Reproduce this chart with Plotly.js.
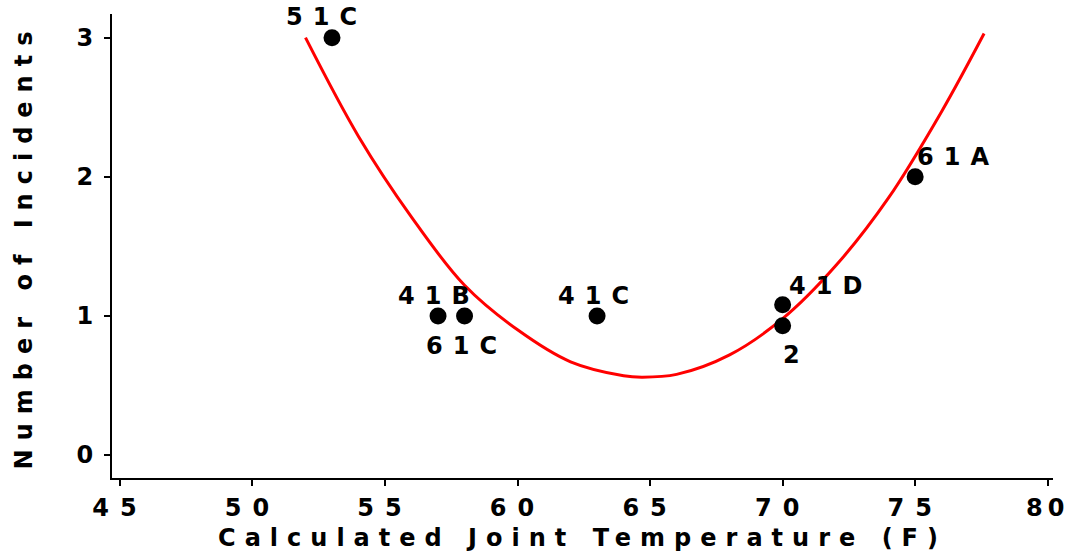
<!DOCTYPE html>
<html>
<head>
<meta charset="utf-8">
<script src="https://cdn.plot.ly/plotly-3.0.1.min.js"></script>
<style>
  html, body { margin: 0; padding: 0; background: #fff; }
  #chart { width: 1072px; height: 553px; }
  #chart .xtick text { letter-spacing: 11px; }
  #chart .xtick:last-of-type text { letter-spacing: 5px; }
  #chart .ytick text { letter-spacing: 6px; }
  #chart .g-xtitle text, #chart .g-ytitle text { letter-spacing: 9px; }
  #chart .annotation-text { letter-spacing: 10px; }
</style>
</head>
<body>
<div id="chart"></div>
<script>
// Observed incidents by joint temperature
const jointTemp = [53, 57, 58, 63, 70, 70, 75];
const incidents = [3, 1, 1, 1, 1.08, 0.93, 2];
const flightLabels = ["51C", "41B", "61C", "41C", "41D", "2", "61A"];

// Fitted curve, values
const curveTemp = [52, 54, 56, 58, 60, 62, 64, 64.7, 66, 68, 70, 72, 74, 76, 77.6];
const curveIncidents = [3.0, 2.29, 1.71, 1.22, 0.9, 0.67, 0.57, 0.56, 0.58, 0.72, 0.98, 1.36, 1.85, 2.47, 3.03];

const xTicks = [45, 50, 55, 60, 65, 70, 75, 80];
const yTicks = [0, 1, 2, 3];

// label offsets in pixels (dx, dy) relative to each point
const labelShift = [[-6, 21], [1, 20], [2, -30], [1, 20], [48, 19], [14, -29], [43, 20]];

const FONT = "DejaVu Sans, Liberation Sans, Arial, sans-serif";

const traces = [
  {
    x: curveTemp, y: curveIncidents, type: "scatter", mode: "lines",
    line: { color: "#ff0000", width: 3, shape: "spline" },
    hoverinfo: "skip", showlegend: false
  },
  {
    x: jointTemp, y: incidents, type: "scatter", mode: "markers",
    marker: { color: "#000000", size: 17 },
    showlegend: false
  }
];

const annotations = flightLabels.map((t, i) => ({
  x: jointTemp[i], y: incidents[i], xref: "x", yref: "y",
  text: "<b>" + t + "</b>", showarrow: false,
  xshift: labelShift[i][0], yshift: labelShift[i][1],
  font: { family: FONT, size: 24, color: "#000" }
}));

const layout = {
  width: 1072, height: 553,
  margin: { l: 112, r: 19, t: 14, b: 75 },
  paper_bgcolor: "#ffffff", plot_bgcolor: "#ffffff",
  font: { family: FONT, size: 24, color: "#000" },
  xaxis: {
    range: [44.7, 80.2], tickvals: xTicks, ticktext: xTicks.map(v => "<b>" + v + "</b>"),
    showgrid: false, zeroline: false,
    showline: true, linecolor: "#000", linewidth: 2,
    ticks: "outside", ticklen: 6, tickwidth: 2, tickcolor: "#000",
    ticklabelstandoff: 1,
    tickfont: { family: FONT, size: 24, color: "#000" },
    title: { text: "<b>Calculated Joint Temperature (F)</b>", font: { family: FONT, size: 24, color: "#000" }, standoff: 8 }
  },
  yaxis: {
    range: [-0.165, 3.17], tickvals: yTicks, ticktext: yTicks.map(v => "<b>" + v + "</b>"),
    showgrid: false, zeroline: false,
    showline: true, linecolor: "#000", linewidth: 2,
    ticks: "outside", ticklen: 6, tickwidth: 2, tickcolor: "#000",
    ticklabelstandoff: 0,
    tickfont: { family: FONT, size: 24, color: "#000" },
    title: { text: "<b>Number of Incidents</b>", font: { family: FONT, size: 24, color: "#000" }, standoff: 43 }
  },
  annotations: annotations
};

Plotly.newPlot("chart", traces, layout, { displayModeBar: false, staticPlot: true });
</script>
</body>
</html>
